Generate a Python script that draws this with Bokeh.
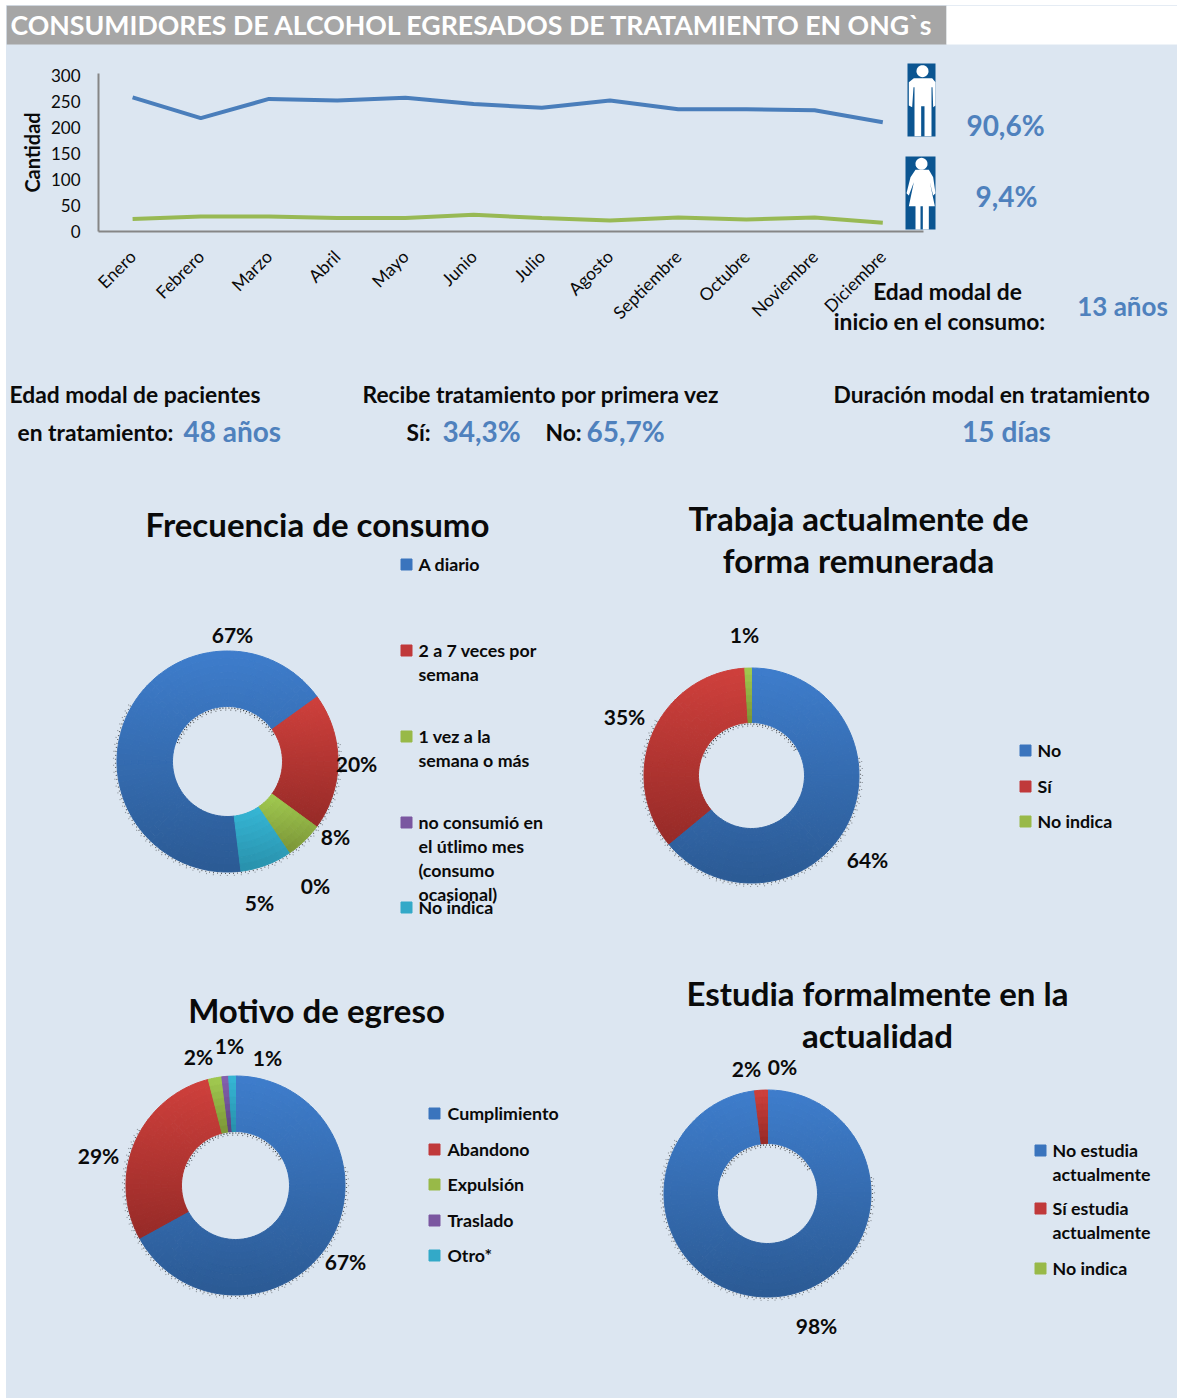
import math
import numpy as np
from bokeh.plotting import figure
from bokeh.layouts import column, row
from bokeh.models import LinearAxis, Range1d, ColumnDataSource, FixedTicker
from bokeh.core.properties import value
from bokeh.embed import file_html
from bokeh.resources import INLINE

# ---------- data ----------
months = ["Enero", "Febrero", "Marzo", "Abril", "Mayo", "Junio", "Julio", "Agosto",
          "Septiembre", "Octubre", "Noviembre", "Diciembre"]
hombres = [258, 218, 255, 252, 257, 245, 238, 252, 235, 235, 233, 210]
mujeres = [24, 29, 29, 26, 26, 32, 26, 21, 27, 23, 27, 17]
y_ticks = [0, 50, 100, 150, 200, 250, 300]

frecuencia_values = [67, 20, 5.5, 0, 7.5]
frecuencia_labels = ["67%", "20%", "8%", "0%", "5%"]
frecuencia_legend = ["A diario", "2 a 7 veces por\nsemana", "1 vez a la\nsemana o más",
                     "no consumió  en\nel útlimo mes\n(consumo\nocasional)", "No indica"]

trabaja_values = [64, 35, 1]
trabaja_labels = ["64%", "35%", "1%"]
trabaja_legend = ["No", "Sí", "No indica"]

motivo_values = [67, 29, 2, 1, 1]
motivo_labels = ["67%", "29%", "2%", "1%", "1%"]
motivo_legend = ["Cumplimiento", "Abandono", "Expulsión", "Traslado", "Otro*"]

estudia_values = [98, 2, 0]
estudia_labels = ["98%", "2%", "0%"]
estudia_legend = ["No estudia\nactualmente", "Sí estudia\nactualmente", "No indica"]

# ---------- style ----------
BG = "#DCE6F1"
FONT = "Lato"
INK = "#0A0A0A"
VAL = "#4F81BD"
BLUE_LINE, GREEN_LINE = "#4A7EBB", "#98B954"
PALETTE = [("#3E7DCC", "#2B5A94", "#3A74BD"), ("#CF403C", "#962A27", "#C0393A"),
           ("#A2CB50", "#7A9436", "#98B948"), ("#8662B0", "#5D4480", "#7A57A0"),
           ("#36B7D6", "#2890AB", "#33A9C8")]
PAGE_L, PAGE_T = 6, 5     # page position of the top-left corner of the layout
PAGE_R, PAGE_B = 1177, 1398
TOP_B = 470
COL_X = 590
ROW_Y = 965


def hexmix(a, b, t):
    ca = [int(a[i:i + 2], 16) for i in (1, 3, 5)]
    cb = [int(b[i:i + 2], 16) for i in (1, 3, 5)]
    return "#%02x%02x%02x" % tuple(int(round(x + (y - x) * t)) for x, y in zip(ca, cb))


# ---------- top figure: line chart and key figures ----------
AX_X0, CAT_W = 98, 68.2       # left end of the category axis, width of one category
AX_Y0, UNIT = 231, 0.52       # position of value 0, pixels per unit
top = figure(width=PAGE_R - PAGE_L, height=TOP_B - PAGE_T,
             x_range=Range1d((PAGE_L - AX_X0) / CAT_W, (PAGE_R - AX_X0) / CAT_W),
             y_range=Range1d((AX_Y0 - TOP_B) / UNIT, (AX_Y0 - PAGE_T) / UNIT),
             output_backend="svg", toolbar_location=None, min_border=0, x_axis_location=None,
             y_axis_location=None, background_fill_color=BG, border_fill_color=BG, outline_line_color=None)
top.grid.visible = False
top.extra_x_ranges["px"] = Range1d(PAGE_L, PAGE_R)
top.extra_y_ranges["py"] = Range1d(PAGE_B - TOP_B, PAGE_B - PAGE_T)
PX = dict(x_range_name="px", y_range_name="py")


def quad(x0, y0, x1, y1, color):
    top.quad(left=x0, right=x1, top=PAGE_B - y0, bottom=PAGE_B - y1, fill_color=color, line_color=None, **PX)


# title band
quad(6, 5, 946, 44, "#A6A6A6")
quad(946, 5, 1177, 44, "#FFFFFF")

# pictogram backgrounds
quad(907, 63, 935, 136, "#0B5591")
quad(905, 156, 935, 229, "#0B5591")

cat_x = [i + 0.5 for i in range(len(months))]
top.line(cat_x, hombres, line_color=BLUE_LINE, line_width=4)
top.line(cat_x, mujeres, line_color=GREEN_LINE, line_width=4)

ax = LinearAxis(fixed_location=0, bounds=(0, 12.1), ticker=FixedTicker(ticks=cat_x),
                major_label_overrides=dict(zip(cat_x, months)))
ax.major_tick_line_color = None
ax.minor_tick_line_color = None
ax.axis_line_color = "#868686"
ax.axis_line_width = 2
ax.major_label_orientation = math.pi / 4
ax.major_label_text_font = FONT
ax.major_label_text_font_size = "17.5px"
ax.major_label_text_color = INK
ax.major_label_standoff = 16
top.add_layout(ax, "below")

ay = LinearAxis(fixed_location=0, bounds=(0, 304), ticker=FixedTicker(ticks=y_ticks))
ay.major_tick_line_color = None
ay.minor_tick_line_color = None
ay.axis_line_color = "#868686"
ay.axis_line_width = 2
ay.major_label_text_font = FONT
ay.major_label_text_font_size = "17px"
ay.major_label_text_color = INK
ay.major_label_standoff = 12
ay.axis_label = "Cantidad"
ay.axis_label_text_font = FONT
ay.axis_label_text_font_size = "20px"
ay.axis_label_text_font_style = "bold"
ay.axis_label_text_color = INK
ay.axis_label_standoff = 4
top.add_layout(ay, "left")


def lbl(x, y, text, size, color=INK, align="left", bold=True):
    top.text(x=[x], y=[PAGE_B - y + 2], text=[text], text_font=value(FONT), text_font_size=value(f"{size}px"),
             text_color=color, text_font_style="bold" if bold else "normal", text_align=align,
             text_baseline="middle", **PX)


lbl(10, 26, "CONSUMIDORES DE ALCOHOL EGRESADOS DE  TRATAMIENTO EN ONG`s", 26.7, "#FFFFFF")


# pictograms (outlines written in 3x page units, offset from x=800, y=40)
def pic(pts):
    top.patch([800 + p[0] / 3 for p in pts], [PAGE_B - (40 + p[1] / 3) for p in pts],
              fill_color="white", line_color=None, **PX)


def head(cx, cy, r):
    a = np.linspace(0, 2 * np.pi, 28, endpoint=False)
    pic(list(zip(cx + r * np.cos(a), cy + r * np.sin(a))))


head(366, 92, 18)
pic([(340, 113), (395, 113), (405, 125), (405, 195), (398, 200), (396, 140), (393, 140), (393, 287), (372, 287),
     (372, 197), (362, 197), (362, 287), (342, 287), (342, 140), (339, 140), (335, 200), (325, 195), (325, 125)])
head(363, 370, 18)
pic([(345, 388), (385, 388), (398, 410), (405, 458), (398, 465), (388, 425), (403, 497), (385, 497), (385, 567),
     (367, 567), (367, 497), (360, 497), (360, 567), (345, 567), (345, 497), (325, 497), (340, 425), (325, 465),
     (318, 458), (330, 410)])

B = 22.8   # bold black statements
V = 28     # blue key figures
lbl(1005, 126, "90,6%", V, VAL, "center")
lbl(1006, 197, "9,4%", V, VAL, "center")
lbl(947, 292, "Edad modal de", B, INK, "center")
lbl(939, 322, "inicio en el consumo:", B, INK, "center")
lbl(1122, 307, "13 años", 26, VAL, "center")
lbl(9, 395, "Edad modal de pacientes", B)
lbl(17, 433, "en tratamiento:", B)
lbl(183, 432, "48 años", V, VAL)
lbl(362, 395, "Recibe tratamiento por primera vez", B)
lbl(406, 433, "Sí:", B)
lbl(442, 432, "34,3%", V, VAL)
lbl(545, 433, "No:", B)
lbl(586, 432, "65,7%", V, VAL)
lbl(833, 395, "Duración modal en tratamiento", B)
lbl(1006, 432, "15 días", V, VAL, "center")


# ---------- donut panels ----------
def panel(x0, x1, y0, y1):
    p = figure(width=x1 - x0, height=y1 - y0, x_range=Range1d(x0, x1),
               y_range=Range1d(PAGE_B - y1, PAGE_B - y0),
               output_backend="svg", toolbar_location=None, min_border=0, x_axis_location=None,
               y_axis_location=None, background_fill_color=BG, border_fill_color=BG, outline_line_color=None)
    p.grid.visible = False
    return p


def donut(p, vals, start_deg, cx, cy, R, r, colors):
    cy_d = PAGE_B - cy
    total = sum(vals)
    data = dict(s=[], e=[], ir=[], or_=[], c=[])
    theta = start_deg
    for v, col in zip(vals, colors):
        span = v / total * 360
        if span <= 0:
            continue
        a = np.radians(np.linspace(theta, theta + span, 200))
        rim = np.concatenate([R * np.cos(a), r * np.cos(a)])
        tmin, tmax = rim.min(), rim.max()          # vertical extent of this slice
        n = max(8, math.ceil(span / 3))
        edges = np.linspace(theta, theta + span, n + 1)
        radii = np.linspace(r, R, 9)
        for t0, t1 in zip(edges[:-1], edges[1:]):
            for r0, r1 in zip(radii[:-1], radii[1:]):
                yc = (r0 + r1) / 2 * math.cos(math.radians((t0 + t1) / 2))
                f = (tmax - yc) / (tmax - tmin)
                data["s"].append(math.radians(90 - t1))
                data["e"].append(math.radians(90 - t0))
                data["ir"].append(r0)
                data["or_"].append(r1)
                data["c"].append(hexmix(col[0], col[1], f))
        theta += span
    src = ColumnDataSource(data)
    p.annular_wedge(x=cx, y=cy_d, inner_radius="ir", outer_radius="or_", start_angle="s", end_angle="e",
                    fill_color="c", line_color="c", line_width=1, source=src)
    # stippled fringe of the source picture
    for off, dash, alpha in ((1.5, "1 3", 0.6), (3.5, "1 6", 0.35)):
        p.arc(x=cx, y=cy_d, radius=R + off, start_angle=math.radians(90 - 300), end_angle=math.radians(90 - 80),
              line_color="#000000", line_dash=dash, line_alpha=alpha, line_width=1.2)
    for off, dash, alpha in ((1.5, "1 2", 0.8), (3.5, "1 4", 0.5)):
        p.arc(x=cx, y=cy_d, radius=r - off, start_angle=math.radians(90 - 60), end_angle=math.radians(90 + 70),
              line_color="#000000", line_dash=dash, line_alpha=alpha, line_width=1.2)


def texts(p, xs, ys, labels, size, align="center", color=INK, lift=2):
    p.text(x=xs, y=[PAGE_B - y + lift for y in ys], text=labels, text_font=value(FONT),
           text_font_size=value(f"{size}px"), text_font_style="bold", text_color=color, text_align=align,
           text_baseline="middle")


def legend(p, sq_x, txt_x, ys, items, colors, size=17.8):
    for y, item, col in zip(ys, items, colors):
        p.scatter(x=[sq_x], y=[PAGE_B - y], marker="square", size=11, fill_color=col[2], line_color=col[2])
        for i, line in enumerate(item.split("\n")):
            texts(p, [txt_x], [y + i * 24], [line], size, "left", lift=1)


T = 33   # panel titles
f1 = panel(PAGE_L, COL_X, TOP_B, ROW_Y)
donut(f1, frecuencia_values, 173, 227, 761, 110.5, 55, PALETTE)
texts(f1, [232, 356, 335, 315, 259], [636, 765, 838, 887, 904], frecuencia_labels, 21)
texts(f1, [317], [526], ["Frecuencia de consumo"], T, lift=3)
legend(f1, 406, 418, [564, 650, 736, 822, 907], frecuencia_legend, PALETTE)

f2 = panel(COL_X, PAGE_R, TOP_B, ROW_Y)
donut(f2, trabaja_values, 0, 751, 775, 107.5, 53, PALETTE)
texts(f2, [867, 624, 744], [861, 718, 636], trabaja_labels, 21)
texts(f2, [858, 858], [520, 562], ["Trabaja actualmente de", "forma remunerada"], T, lift=3)
legend(f2, 1025, 1037, [750, 786, 821], trabaja_legend, PALETTE)

f3 = panel(PAGE_L, COL_X, ROW_Y, PAGE_B)
donut(f3, motivo_values, 0, 235, 1185, 109.5, 54, PALETTE)
texts(f3, [345, 98, 198, 229, 267], [1263, 1157, 1058, 1047, 1059], motivo_labels, 21)
texts(f3, [316], [1012], ["Motivo de egreso"], T, lift=3)
legend(f3, 434, 447, [1113, 1149, 1184, 1220, 1255], motivo_legend, PALETTE)

f4 = panel(COL_X, PAGE_R, ROW_Y, PAGE_B)
donut(f4, estudia_values, 0, 767, 1193, 103.5, 50, PALETTE)
texts(f4, [816, 746, 782], [1327, 1070, 1068], estudia_labels, 21)
texts(f4, [877, 877], [995, 1037], ["Estudia formalmente en la", "actualidad"], T, lift=3)
legend(f4, 1040, 1052, [1150, 1208, 1268], estudia_legend, PALETTE)

page = column(top, row(f1, f2, spacing=0, styles={"background-color": BG}),
              row(f3, f4, spacing=0, styles={"background-color": BG}), spacing=0,
              margin=(PAGE_T, 0, 0, PAGE_L), styles={"background-color": BG})

open("out.html", "w").write(file_html(page, INLINE))
